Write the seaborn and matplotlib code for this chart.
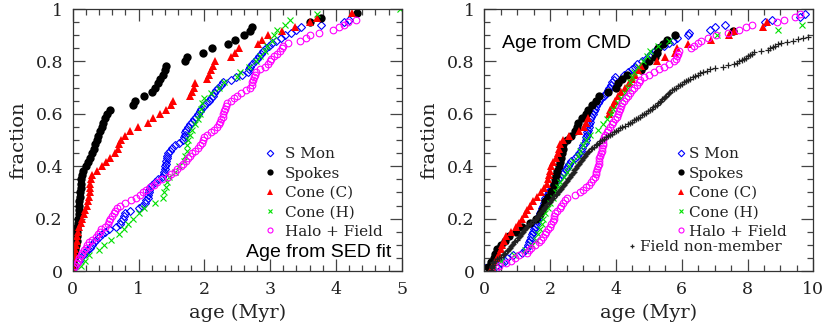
import matplotlib
matplotlib.use("Agg")
import matplotlib.pyplot as plt
from matplotlib.ticker import MultipleLocator
import seaborn as sns

# left panel: ages from SED fit
sed_smon = [0.02, 0.04, 0.07, 0.09, 0.11, 0.15, 0.18, 0.22, 0.26, 0.29,
            0.32, 0.36, 0.40, 0.45, 0.49, 0.55, 0.66, 0.72, 0.74, 0.76,
            0.78, 0.80, 0.87, 1.00, 1.06, 1.10, 1.12, 1.14, 1.15, 1.16,
            1.16, 1.17, 1.21, 1.25, 1.30, 1.35, 1.38, 1.39, 1.40, 1.41,
            1.42, 1.42, 1.43, 1.44, 1.45, 1.48, 1.51, 1.55, 1.62, 1.68,
            1.69, 1.70, 1.71, 1.72, 1.75, 1.79, 1.82, 1.85, 1.87, 1.90,
            1.93, 1.95, 1.99, 2.03, 2.07, 2.10, 2.13, 2.15, 2.18, 2.21,
            2.25, 2.28, 2.40, 2.48, 2.57, 2.66, 2.68, 2.69, 2.73, 2.77,
            2.80, 2.83, 2.86, 2.89, 2.93, 2.98, 3.03, 3.09, 3.16, 3.23,
            3.31, 3.40, 3.47, 3.78, 4.13, 4.20, 5.30, 5.80, 6.50, 7.50]
sed_spokes = [0.00, 0.01, 0.02, 0.03, 0.04, 0.05, 0.06, 0.06, 0.07, 0.07,
              0.08, 0.08, 0.09, 0.09, 0.10, 0.10, 0.11, 0.11, 0.12, 0.13,
              0.13, 0.14, 0.16, 0.20, 0.23, 0.27, 0.30, 0.32, 0.34, 0.37,
              0.39, 0.41, 0.44, 0.46, 0.49, 0.52, 0.56, 0.92, 0.95, 1.09,
              1.20, 1.25, 1.29, 1.33, 1.37, 1.40, 1.42, 1.70, 1.73, 1.98,
              2.11, 2.36, 2.46, 2.60, 2.69, 2.72, 3.61, 3.78, 4.32, 6.00]
sed_cone_c = [0.00, 0.01, 0.02, 0.03, 0.04, 0.05, 0.06, 0.07, 0.08, 0.10,
              0.12, 0.14, 0.17, 0.19, 0.21, 0.23, 0.25, 0.26, 0.27, 0.27,
              0.28, 0.30, 0.37, 0.44, 0.51, 0.56, 0.64, 0.69, 0.71, 0.74,
              0.80, 0.87, 0.99, 1.15, 1.22, 1.32, 1.42, 1.50, 1.52, 1.79,
              1.82, 1.84, 1.86, 2.04, 2.07, 2.10, 2.13, 2.16, 2.41, 2.47,
              2.52, 2.81, 2.87, 2.97, 3.18, 3.38, 3.60, 3.72, 4.24, 6.00]
sed_cone_h = [0.13, 0.18, 0.25, 0.40, 0.47, 0.58, 0.70, 0.78, 0.84, 0.92,
              1.00, 1.08, 1.25, 1.37, 1.39, 1.42, 1.44, 1.47, 1.56, 1.62,
              1.69, 1.71, 1.73, 1.74, 1.75, 1.78, 1.82, 1.86, 1.90, 1.93,
              1.95, 1.97, 1.99, 2.10, 2.22, 2.30, 2.50, 2.54, 2.68, 2.79,
              2.85, 2.92, 2.96, 3.03, 3.06, 3.10, 3.23, 3.30, 3.72, 4.97]
sed_halo = [0.01, 0.03, 0.06, 0.08, 0.10, 0.12, 0.14, 0.17, 0.20, 0.22,
            0.25, 0.30, 0.35, 0.39, 0.41, 0.43, 0.49, 0.53, 0.55, 0.57,
            0.60, 0.62, 0.65, 0.68, 0.72, 0.80, 0.88, 0.96, 1.02, 1.07,
            1.12, 1.18, 1.23, 1.28, 1.35, 1.45, 1.50, 1.55, 1.59, 1.64,
            1.68, 1.72, 1.75, 1.78, 1.81, 1.86, 1.90, 1.93, 1.96, 1.98,
            2.00, 2.04, 2.10, 2.15, 2.19, 2.22, 2.24, 2.26, 2.28, 2.29,
            2.30, 2.31, 2.33, 2.35, 2.40, 2.45, 2.50, 2.56, 2.64, 2.70,
            2.72, 2.73, 2.74, 2.76, 2.77, 2.78, 2.85, 2.92, 2.97, 3.00,
            3.02, 3.06, 3.11, 3.15, 3.18, 3.20, 3.27, 3.45, 3.55, 3.60,
            3.75, 3.95, 4.05, 4.13, 4.19, 4.30, 5.50, 6.20, 7.00, 8.00]

# right panel: ages from CMD
cmd_smon = [0.02, 0.35, 0.50, 0.62, 0.70, 0.88, 1.15, 1.25, 1.30, 1.34,
            1.37, 1.39, 1.42, 1.46, 1.49, 1.51, 1.53, 1.56, 1.60, 1.64,
            1.66, 1.68, 1.71, 1.76, 1.79, 1.81, 1.83, 1.85, 1.92, 1.97,
            2.01, 2.05, 2.12, 2.19, 2.25, 2.31, 2.37, 2.43, 2.49, 2.54,
            2.58, 2.63, 2.76, 2.82, 2.89, 2.93, 2.97, 3.01, 3.05, 3.08,
            3.10, 3.11, 3.13, 3.15, 3.17, 3.18, 3.20, 3.21, 3.25, 3.29,
            3.33, 3.36, 3.40, 3.45, 3.48, 3.56, 3.65, 3.70, 3.75, 3.80,
            3.85, 3.89, 3.93, 3.97, 4.25, 4.38, 4.50, 4.57, 4.65, 4.80,
            4.90, 5.00, 5.08, 5.20, 5.29, 5.45, 5.60, 5.75, 5.85, 6.18,
            6.22, 6.86, 7.01, 7.31, 8.53, 8.74, 9.60, 9.75, 11.0, 13.0]
cmd_spokes = [0.10, 0.20, 0.28, 0.33, 0.40, 0.50, 0.62, 0.75, 0.95, 1.15,
              1.40, 1.57, 1.70, 1.75, 1.80, 1.85, 1.95, 2.02, 2.08, 2.12,
              2.15, 2.18, 2.21, 2.28, 2.31, 2.33, 2.35, 2.38, 2.40, 2.50,
              2.65, 2.75, 2.82, 2.86, 2.98, 3.08, 3.16, 3.28, 3.38, 3.50,
              3.75, 4.00, 4.07, 4.20, 4.33, 4.75, 4.85, 5.00, 5.20, 5.26,
              5.29, 5.42, 5.55, 5.80, 7.57, 10.5, 11.0, 12.0, 13.0, 15.0]
cmd_cone_c = [0.22, 0.32, 0.40, 0.46, 0.50, 0.53, 0.60, 0.67, 0.80, 0.95,
              1.05, 1.15, 1.24, 1.29, 1.40, 1.48, 1.60, 1.72, 1.80, 1.90,
              1.95, 1.98, 2.01, 2.04, 2.10, 2.18, 2.24, 2.27, 2.31, 2.40,
              2.58, 2.88, 3.02, 3.10, 3.15, 3.78, 3.82, 3.90, 3.98, 4.05,
              4.15, 4.28, 4.40, 4.50, 4.58, 4.68, 4.75, 5.24, 5.50, 5.80,
              5.86, 6.18, 6.90, 7.45, 7.58, 8.48, 8.60, 11.0, 12.0, 14.0]
cmd_cone_h = [0.30, 0.50, 0.90, 1.25, 1.45, 1.57, 1.62, 1.68, 1.75, 1.79,
              1.85, 1.93, 2.01, 2.08, 2.18, 2.24, 2.30, 2.42, 2.50, 2.58,
              2.70, 2.84, 2.92, 3.01, 3.10, 3.20, 3.45, 3.62, 3.74, 3.85,
              3.92, 4.05, 4.15, 4.27, 4.38, 4.43, 4.48, 4.55, 4.68, 4.83,
              4.95, 5.04, 5.29, 5.60, 7.06, 8.94, 9.65, 11.0, 12.0, 13.0]
cmd_halo = [0.35, 0.45, 0.65, 0.80, 0.92, 1.05, 1.30, 1.36, 1.42, 1.55,
            1.66, 1.72, 1.78, 1.83, 1.88, 1.93, 2.00, 2.04, 2.08, 2.11,
            2.13, 2.15, 2.22, 2.30, 2.34, 2.38, 2.45, 2.52, 2.75, 2.90,
            3.00, 3.09, 3.17, 3.25, 3.30, 3.35, 3.38, 3.41, 3.44, 3.46,
            3.48, 3.49, 3.50, 3.52, 3.55, 3.57, 3.58, 3.60, 3.61, 3.62,
            3.64, 3.68, 3.72, 3.76, 3.81, 3.87, 3.92, 3.97, 4.02, 4.06,
            4.09, 4.12, 4.16, 4.20, 4.25, 4.32, 4.38, 4.44, 4.50, 4.56,
            4.63, 4.69, 4.74, 4.86, 5.00, 5.15, 5.30, 5.45, 5.62, 5.76,
            5.82, 5.86, 5.89, 5.92, 6.28, 6.38, 6.48, 6.60, 6.80, 7.05,
            7.40, 7.75, 7.95, 8.13, 8.90, 9.10, 9.44, 9.60, 11.0, 13.0]
cmd_field = [0.21, 0.22, 0.23, 0.24, 0.25, 0.26, 0.27,
             0.33, 0.39, 0.45, 0.51, 0.57,
             0.61, 0.64, 0.68, 0.71, 0.74, 0.78, 0.81, 0.84, 0.87,
             0.91, 0.94, 0.98, 1.01, 1.05, 1.08, 1.12, 1.15, 1.19,
             1.22, 1.25, 1.28, 1.31, 1.34, 1.38,
             1.43, 1.48, 1.54,
             1.57, 1.60, 1.62, 1.65, 1.68, 1.71, 1.74, 1.77,
             1.80, 1.84, 1.88, 1.92, 1.96, 2.00,
             2.03, 2.07, 2.10, 2.13, 2.17, 2.20, 2.23, 2.27, 2.30,
             2.33, 2.36, 2.40, 2.43, 2.46, 2.49,
             2.52, 2.55, 2.58, 2.61, 2.63, 2.66, 2.69,
             2.72, 2.74, 2.77, 2.80, 2.82, 2.85, 2.87, 2.90,
             2.93, 2.96, 2.99, 3.02, 3.05, 3.08,
             3.11, 3.15, 3.19, 3.23,
             3.27, 3.32, 3.38, 3.43, 3.48,
             3.53, 3.59, 3.65, 3.71, 3.77,
             3.83, 3.89, 3.95, 4.00, 4.06, 4.12,
             4.20, 4.28, 4.36,
             4.44, 4.50, 4.56, 4.62, 4.68,
             4.74, 4.80, 4.86, 4.92, 4.98, 5.04,
             5.09, 5.14, 5.20,
             5.25, 5.29, 5.33, 5.37, 5.41,
             5.45, 5.49, 5.53, 5.57, 5.61, 5.65, 5.69,
             5.76, 5.83, 5.89, 5.95,
             6.01, 6.07, 6.13, 6.19, 6.25,
             6.33, 6.41, 6.48, 6.56,
             6.66, 6.77, 6.87,
             7.00,
             7.27, 7.42, 7.58,
             7.69, 7.75, 7.82, 7.88, 7.94,
             8.01, 8.07, 8.14, 8.20,
             8.40,
             8.61, 8.69, 8.77, 8.85, 8.93,
             9.03, 9.21, 9.39,
             9.54, 9.68,
             9.83, 10.1,
             10.3, 10.5, 10.8, 11.0, 11.3, 11.6, 12.0, 12.4, 12.8, 13.2,
             13.7, 14.2, 14.8, 15.5, 16.3, 17.0, 18.0, 19.0, 20.5, 22.0]

group_names = ["S Mon", "Spokes", "Cone (C)", "Cone (H)", "Halo + Field"]
field_name = "Field non-member"
frac_ticks = [0, 0.2, 0.4, 0.6, 0.8, 1]
frac_labels = ["0", "0.2", "0.4", "0.6", "0.8", "1"]
sed_age_ticks = [0, 1, 2, 3, 4, 5]
cmd_age_ticks = [0, 2, 4, 6, 8, 10]

styles = {
    "S Mon": dict(marker="D", markersize=4.4, markerfacecolor="none",
                  markeredgecolor="#0000ff", markeredgewidth=0.8, color="#0000ff"),
    "Spokes": dict(marker="o", markersize=6, markeredgewidth=0, color="black"),
    "Cone (C)": dict(marker="^", markersize=5.5, markeredgewidth=0, color="#ff0000"),
    "Cone (H)": dict(marker="x", markersize=4.4, markeredgewidth=0.8, color="#00e000"),
    "Halo + Field": dict(marker="o", markersize=4.8, markerfacecolor="none",
                         markeredgecolor="#ff00ff", markeredgewidth=0.8, color="#ff00ff"),
    field_name: dict(marker="+", markersize=4, markeredgewidth=0.9, color="#222222"),
}

sns.set_theme(style="ticks")
plt.rcParams["font.family"] = ["DejaVu Serif"]
plt.rcParams["text.color"] = "#222222"
plt.rcParams["axes.labelcolor"] = "#222222"
plt.rcParams["xtick.color"] = "#444444"
plt.rcParams["ytick.color"] = "#444444"
plt.rcParams["xtick.labelcolor"] = "#222222"
plt.rcParams["ytick.labelcolor"] = "#222222"


def style_axis(ax, xmax, xticks, xminor):
    ax.set_xlim(0, xmax)
    ax.set_ylim(0, 1)
    ax.set_xticks(xticks)
    ax.set_xticklabels([str(t) for t in xticks])
    ax.set_yticks(frac_ticks)
    ax.set_yticklabels(frac_labels)
    ax.xaxis.set_minor_locator(MultipleLocator(xminor))
    ax.yaxis.set_minor_locator(MultipleLocator(0.05))
    ax.tick_params(which="both", direction="in", top=True, right=True,
                   width=0.9, labelsize=12.5, pad=7)
    ax.tick_params(which="major", length=8.5)
    ax.tick_params(which="minor", length=4.3)
    ax.set_xlabel("age (Myr)", fontsize=14, labelpad=4)
    ax.set_ylabel("fraction", fontsize=14, labelpad=6)
    for spine in ax.spines.values():
        spine.set_linewidth(0.9)
        spine.set_color("#333333")


fig = plt.figure(figsize=(8.3, 3.29), dpi=100)
ax1 = fig.add_axes([0.0876, 0.176, 0.3964, 0.7964])
ax2 = fig.add_axes([0.5835, 0.176, 0.3964, 0.7964])

sed_sets = [sed_smon, sed_spokes, sed_cone_c, sed_cone_h, sed_halo]
cmd_sets = [cmd_smon, cmd_spokes, cmd_cone_c, cmd_cone_h, cmd_halo]

for name, ages in zip(group_names, sed_sets):
    sns.ecdfplot(x=ages, ax=ax1, label=name, linestyle="none", **styles[name])
for name, ages in zip(group_names, cmd_sets):
    sns.ecdfplot(x=ages, ax=ax2, label=name, linestyle="none", **styles[name])
sns.ecdfplot(x=cmd_field, ax=ax2, label=field_name, linestyle="none", **styles[field_name])

style_axis(ax1, 5, sed_age_ticks, 0.2)
style_axis(ax2, 10, cmd_age_ticks, 0.5)

ax1.legend(loc="upper left", bbox_to_anchor=(0.577, 0.473), frameon=False,
           fontsize=11, handlelength=1.0, handletextpad=0.45, labelspacing=0.35,
           borderpad=0, borderaxespad=0, markerscale=0.75)

handles, labels = ax2.get_legend_handles_labels()
leg = ax2.legend(handles[:5], labels[:5], loc="upper left", bbox_to_anchor=(0.584, 0.473),
                 frameon=False, fontsize=11, handlelength=0.6, handletextpad=0.22,
                 labelspacing=0.35, borderpad=0, borderaxespad=0, markerscale=0.75)
ax2.add_artist(leg)
ax2.legend(handles[5:], labels[5:], loc="upper left", bbox_to_anchor=(0.435, 0.118),
           frameon=False, fontsize=11, handlelength=0.6, handletextpad=0.22,
           borderpad=0, borderaxespad=0, markerscale=0.75)

ax1.text(0.97, 0.055, "Age from SED fit", transform=ax1.transAxes, ha="right",
         va="baseline", fontsize=14, family=["Liberation Sans", "DejaVu Sans"], color="black")
ax2.text(0.054, 0.852, "Age from CMD", transform=ax2.transAxes, ha="left",
         va="baseline", fontsize=14, family=["Liberation Sans", "DejaVu Sans"], color="black")

fig.savefig("out.png", dpi=100)
